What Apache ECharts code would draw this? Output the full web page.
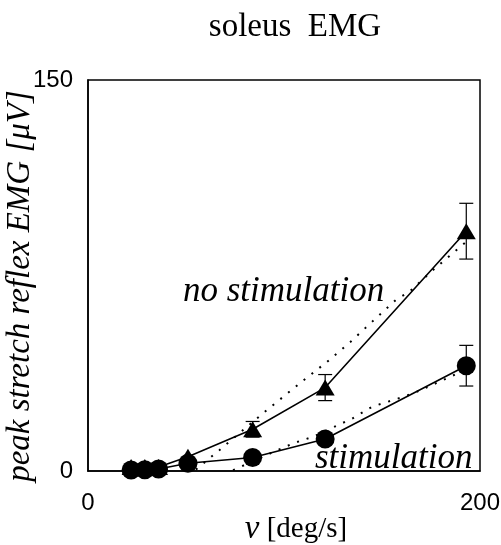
<!DOCTYPE html>
<html>
<head>
<meta charset="utf-8">
<script src="https://cdn.jsdelivr.net/npm/echarts@6/dist/echarts.min.js"></script>
<style>
  html, body { margin: 0; padding: 0; background: #fff; }
  #chart { width: 501px; height: 545px; }
</style>
</head>
<body>
<div id="chart"></div>
<script>
// Stretch velocities [deg/s]
var velocity = [22, 29, 36, 51, 84, 121, 193];
// Peak stretch reflex EMG [µV], mean and SD
var noStimMean = [1.5, 1.5, 1.5, 5.5, 16, 32, 92];
var noStimSD   = [0, 0, 0, 0, 3, 5, 10.7];
var stimMean   = [0.4, 0.5, 0.8, 3, 5.2, 12.3, 40.4];
var stimSD     = [0, 0, 0, 0, 0, 1, 7.8];
// Fitted trend curves (dotted)
var noStimFitV = [50, 55, 67, 90, 109, 122, 134, 145, 157, 164, 176, 196];
var noStimFitY = [0, 0.5, 8, 22.6, 34.2, 41.9, 49.6, 57.3, 65.6, 68.8, 77.1, 89.9];
var stimFitV   = [74, 91, 105, 115, 135, 145, 159, 166, 185, 193];
var stimFitY   = [0.3, 6.1, 10.7, 13.2, 20.2, 24.7, 28, 29.8, 36.2, 39];
// Axis ticks
var xTicks = [0, 200];
var yTicks = [0, 150];

function pairs(xs, ys) { return xs.map(function (x, i) { return [x, ys[i]]; }); }
function errRows(xs, m, sd) { return xs.map(function (x, i) { return [x, m[i] - sd[i], m[i] + sd[i]]; }); }

function errorBarItem(params, api) {
  var lo = api.coord([api.value(0), api.value(1)]);
  var hi = api.coord([api.value(0), api.value(2)]);
  if (Math.abs(hi[1] - lo[1]) < 1) return null;
  var w = 7;
  var st = { stroke: '#000', lineWidth: 1.2 };
  return {
    type: 'group',
    children: [
      { type: 'line', shape: { x1: lo[0], y1: lo[1], x2: hi[0], y2: hi[1] }, style: st },
      { type: 'line', shape: { x1: lo[0] - w, y1: lo[1], x2: lo[0] + w, y2: lo[1] }, style: st },
      { type: 'line', shape: { x1: hi[0] - w, y1: hi[1], x2: hi[0] + w, y2: hi[1] }, style: st }
    ]
  };
}

var serif = '"Liberation Serif", "DejaVu Serif", serif';
var sans = '"Liberation Sans", Arial, sans-serif';

var chart = echarts.init(document.getElementById('chart'), null, { renderer: 'canvas' });
chart.setOption({
  animation: false,
  backgroundColor: '#fff',
  grid: {
    left: 88, right: 21, top: 80, bottom: 74, containLabel: false, outerBoundsMode: 'none',
    show: true, borderColor: '#000', borderWidth: 1.5, backgroundColor: 'transparent'
  },
  title: {
    text: 'soleus  EMG', left: 290, top: 6, textAlign: 'center',
    textStyle: { fontFamily: serif, fontSize: 33, fontWeight: 'normal', color: '#000' }
  },
  xAxis: {
    type: 'value', min: xTicks[0], max: xTicks[1], interval: xTicks[1] - xTicks[0],
    axisLine: { show: true, lineStyle: { color: '#000', width: 1.5 } },
    axisTick: { show: false }, splitLine: { show: false },
    axisLabel: { margin: 20, fontFamily: sans, fontSize: 24, color: '#000' }
  },
  yAxis: {
    type: 'value', min: yTicks[0], max: yTicks[1], interval: yTicks[1] - yTicks[0],
    axisLine: { show: true, lineStyle: { color: '#000', width: 1.5 } },
    axisTick: { show: false }, splitLine: { show: false },
    axisLabel: { margin: 15, fontFamily: sans, fontSize: 24, color: '#000' }
  },
  graphic: [
    // horizontal axis title
    { type: 'text', x: 296, y: 529, z: 50,
      style: {
        text: '{i|v} [deg/s]', font: '29px ' + serif, fill: '#000',
        align: 'center', verticalAlign: 'middle',
        rich: { i: { font: 'italic 33px ' + serif, fill: '#000' } }
      } },
    // vertical axis title, reading bottom to top
    { type: 'text', x: 20, y: 286, rotation: Math.PI / 2, z: 50,
      style: { text: 'peak stretch reflex EMG [\u03bcV]', font: 'italic 33px ' + serif, fill: '#000',
               align: 'center', verticalAlign: 'middle' } },
    { type: 'text', left: 183, top: 274, z: 50,
      style: { text: 'no stimulation', font: 'italic 35px ' + serif, fill: '#000' } },
    { type: 'text', left: 315, top: 441, z: 50,
      style: { text: 'stimulation', font: 'italic 35px ' + serif, fill: '#000' } }
  ],
  series: [
    { type: 'line', data: pairs(noStimFitV, noStimFitY), symbol: 'none', silent: true,
      lineStyle: { color: '#000', width: 2, type: [2, 8] }, z: 2 },
    { type: 'line', data: pairs(stimFitV, stimFitY), symbol: 'none', silent: true,
      lineStyle: { color: '#000', width: 2, type: [2, 8] }, z: 2 },
    { type: 'custom', data: errRows(velocity, noStimMean, noStimSD), renderItem: errorBarItem, z: 3 },
    { type: 'custom', data: errRows(velocity, stimMean, stimSD), renderItem: errorBarItem, z: 3 },
    { type: 'line', data: pairs(velocity, noStimMean), symbol: 'triangle', symbolSize: [19, 16],
      itemStyle: { color: '#000' }, lineStyle: { color: '#000', width: 1.6 }, z: 4 },
    { type: 'line', data: pairs(velocity, stimMean), symbol: 'circle', symbolSize: 19,
      itemStyle: { color: '#000' }, lineStyle: { color: '#000', width: 1.6 }, z: 5 }
  ]
});
</script>
</body>
</html>
